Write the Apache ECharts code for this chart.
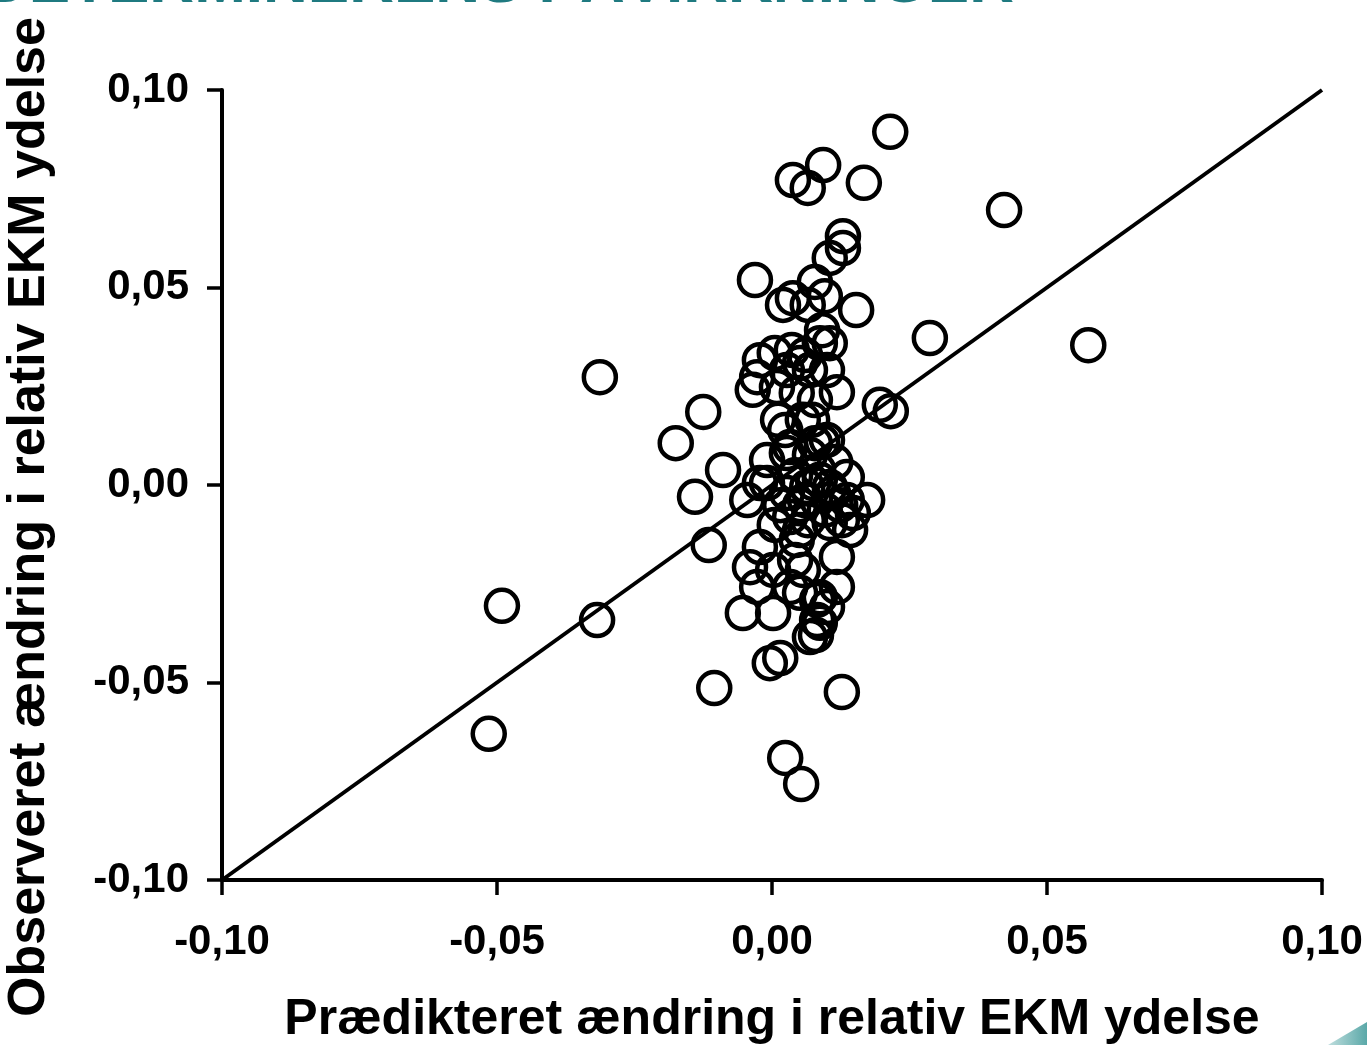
<!DOCTYPE html>
<html>
<head>
<meta charset="utf-8">
<script src="https://cdn.jsdelivr.net/npm/echarts@6/dist/echarts.min.js"></script>
<style>
    html, body { margin: 0; padding: 0; background: #fff; }
    #chart { width: 1367px; height: 1045px; }
</style>
</head>
<body>
<div id="chart"></div>
<script>
// prædikteret (x) og observeret (y) ændring
const predicted = [
    0.0215, 0.0093, 0.0038, 0.0065, 0.0167, 0.0422, 0.0129, 0.0129, 0.0105, -0.0031,
    0.0078, 0.0096, 0.0038, 0.0020, 0.0065, 0.0153, 0.0287, 0.0575, -0.0313, -0.0125,
    -0.0175, 0.0196, 0.0216, -0.0089, -0.0140, -0.0115, -0.0491, -0.0318, -0.0515, -0.0105,
    0.0127, 0.0024, 0.0053, -0.0004, 0.0015,
    0.0036, 0.0005, 0.0087, 0.0105, 0.0051, 0.0027, -0.0027, -0.0035, 0.0009, 0.0069,
    0.0100, 0.0118, 0.0045, 0.0011, 0.0056, 0.0091, 0.0100, 0.0078, -0.0009, 0.0027,
    0.0087, 0.0064, 0.0136, 0.0111, 0.0027, -0.0022, -0.0045,
    -0.0009, 0.0075, 0.0105, 0.0136, 0.0173, 0.0147, 0.0033, 0.0051, 0.0105, 0.0142,
    0.0045, -0.0022, 0.0118, -0.0040, 0.0002, 0.0056, -0.0027, 0.0118, 0.0033, 0.0087,
    -0.0053, 0.0002, 0.0100, 0.0087, 0.0069,
    0.0051, 0.0082, 0.0080, 0.0082,
    0.0060, 0.0015, 0.0096, 0.0042, 0.0069, 0.0024, 0.0124, 0.0073, 0.0078, 0.0060,
    0.0051, 0.0084, 0.0115, 0.0033, 0.0065, 0.0127, 0.0005, 0.0042, -0.0022, 0.0091
];
const observed = [
    0.0894, 0.0810, 0.0772, 0.0752, 0.0765, 0.0696, 0.0630, 0.0600, 0.0575, 0.0519,
    0.0514, 0.0478, 0.0473, 0.0456, 0.0456, 0.0443, 0.0372, 0.0354, 0.0273, 0.0185,
    0.0106, 0.0203, 0.0187, 0.0038, -0.0030, -0.0152, -0.0306, -0.0342, -0.0630, -0.0514,
    -0.0524, -0.0691, -0.0757, -0.0451, -0.0438,
    0.0342, 0.0334, 0.0359, 0.0359, 0.0309, 0.0291, 0.0273, 0.0241, 0.0248, 0.0291,
    0.0291, 0.0235, 0.0233, 0.0165, 0.0165, 0.0109, 0.0114, 0.0106, 0.0063, 0.0081,
    0.0013, -0.0005, 0.0020, -0.0020, -0.0020, 0.0005, -0.0038,
    0.0005, 0.0005, -0.0005, -0.0038, -0.0038, -0.0071, -0.0081, -0.0114, -0.0096, -0.0114,
    -0.0139, -0.0157, -0.0182, -0.0208, -0.0215, -0.0215, -0.0258, -0.0258, -0.0258, -0.0284,
    -0.0324, -0.0324, -0.0309, -0.0349, -0.0385,
    -0.0273, -0.0291, -0.0380, -0.0342,
    -0.0038, -0.0051, -0.0063, 0.0025, 0.0076, 0.0139, -0.0051, 0.0165, 0.0215, 0.0329,
    -0.0051, 0.0038, 0.0058, 0.0096, -0.0089, -0.0089, -0.0101, -0.0190, 0.0316, 0.0392
];
// identitetslinje
const lineX = [-0.10, 0.10];
const lineY = [-0.10, 0.10];
const ticks = { min: -0.10, max: 0.10, step: 0.05 };

const FONT = "'Liberation Sans', Arial, sans-serif";

function fmt(v) {
    return v.toFixed(2).replace('.', ',');
}

const chart = echarts.init(document.getElementById('chart'));

const axisCommon = {
    type: 'value',
    min: ticks.min,
    max: ticks.max,
    interval: ticks.step,
    axisLine: { show: true, onZero: false, lineStyle: { color: '#000', width: 4 } },
    axisTick: { show: true, length: 15, lineStyle: { color: '#000', width: 3.5 } },
    splitLine: { show: false },
    axisLabel: {
        color: '#000',
        fontFamily: FONT,
        fontWeight: 'bold',
        fontSize: 42,
        formatter: fmt
    }
};

chart.setOption({
    animation: false,
    backgroundColor: '#fff',
    grid: { left: 222, right: 45, top: 90, bottom: 165 },
    xAxis: Object.assign({}, axisCommon, {
        axisLabel: Object.assign({}, axisCommon.axisLabel, { margin: 41 })
    }),
    yAxis: Object.assign({}, axisCommon, {
        axisLabel: Object.assign({}, axisCommon.axisLabel, { margin: 33 })
    }),
    series: [
        {
            type: 'line',
            data: lineX.map((x, i) => [x, lineY[i]]),
            symbol: 'none',
            lineStyle: { color: '#000', width: 4 },
            z: 2
        },
        {
            type: 'scatter',
            data: predicted.map((x, i) => [x, observed[i]]),
            symbol: 'circle',
            symbolSize: 32,
            itemStyle: { color: 'rgba(0,0,0,0)', borderColor: '#000', borderWidth: 4.5, opacity: 1 },
            z: 3
        }
    ],
    graphic: [
        {
            type: 'text',
            left: -16, top: -46,
            style: {
                text: 'DETERMINERENS PÅVIRKNINGER',
                font: "bold 62px " + FONT,
                fill: '#1f7a80'
            }
        },
        {
            type: 'text',
            x: 30, y: 517,
            rotation: Math.PI / 2,
            style: {
                text: 'Observeret ændring i relativ EKM ydelse',
                font: "bold 52px " + FONT,
                fill: '#000',
                align: 'center',
                verticalAlign: 'middle'
            }
        },
        {
            type: 'text',
            x: 772, y: 1020,
            style: {
                text: 'Prædikteret ændring i relativ EKM ydelse',
                font: "bold 50px " + FONT,
                fill: '#000',
                align: 'center',
                verticalAlign: 'middle'
            }
        },
        {
            type: 'polygon',
            shape: { points: [[1328, 1045], [1367, 1022], [1367, 1045]] },
            style: {
                fill: new echarts.graphic.LinearGradient(0, 0, 1, 0, [
                    { offset: 0, color: '#bfdede' },
                    { offset: 1, color: '#5aa8a8' }
                ])
            }
        }
    ]
});
</script>
</body>
</html>
